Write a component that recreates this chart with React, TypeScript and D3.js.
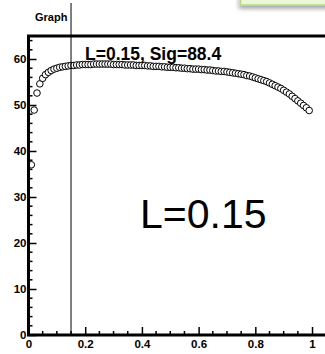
import { useRef, useEffect } from 'react';
import * as d3 from 'd3';

// Sig vs L, sampled every 0.01 from L=0.01 to L=0.99
const L_START = 0.01;
const L_STEP = 0.01;
const SIG_VALUES = [
  37.0, 48.9, 52.6, 54.6, 55.8, 56.6, 57.1, 57.5, 57.8, 58.0,
  58.2, 58.3, 58.4, 58.5, 58.6, 58.6, 58.7, 58.7, 58.8, 58.8,
  58.8, 58.8, 58.9, 58.9, 58.9, 58.9, 58.9, 58.9, 58.9, 58.8,
  58.8, 58.8, 58.8, 58.7, 58.7, 58.7, 58.7, 58.6, 58.6,
  58.6, 58.6, 58.5, 58.5, 58.4, 58.4, 58.4, 58.3, 58.3, 58.2,
  58.2, 58.2, 58.1, 58.1, 58.0, 58.0, 57.9, 57.9, 57.8, 57.8,
  57.8, 57.7, 57.7, 57.6, 57.6, 57.5, 57.4, 57.4, 57.3, 57.3,
  57.2, 57.1, 57.0, 56.9, 56.8, 56.7, 56.6, 56.4, 56.3, 56.1,
  55.9, 55.7, 55.5, 55.3, 55.1, 54.8, 54.5, 54.2, 53.9, 53.6,
  53.2, 52.8, 52.4, 51.9, 51.4, 50.9, 50.4, 49.9, 49.4, 48.8,
];
const X_MAJOR = [0, 0.2, 0.4, 0.6, 0.8, 1];
const X_MINOR = [0.05, 0.1, 0.15, 0.25, 0.3, 0.35, 0.45, 0.5, 0.55, 0.65, 0.7, 0.75, 0.85, 0.9, 0.95, 1.05];
const Y_MAJOR = [0, 10, 20, 30, 40, 50, 60];
const Y_MINOR = [2, 4, 6, 8, 12, 14, 16, 18, 22, 24, 26, 28, 32, 34, 36, 38, 42, 44, 46, 48, 52, 54, 56, 58, 62, 64];
const MARKER_L = 0.15;
const TITLE = 'Graph';
const NOTE = 'L=0.15, Sig=88.4';
const BIG_NOTE = 'L=0.15';

const W = 325;
const H = 354;
const FONT = '"Liberation Sans", Arial, sans-serif';

export default function App() {
  const svgRef = useRef<SVGSVGElement>(null);

  useEffect(() => {
    document.body.style.margin = '0';
    const svg = d3.select(svgRef.current);
    svg.selectAll('*').remove();

    const x = d3.scaleLinear().domain([0, 1.05]).range([28.5, 326.2]);
    const y = d3.scaleLinear().domain([0, 65]).range([335, 36]);

    // callout box peeking in at the top right
    const defs = svg.append('defs');
    const f = defs.append('filter').attr('id', 'shadow').attr('x', '-20%').attr('y', '-50%').attr('width', '140%').attr('height', '300%');
    f.append('feDropShadow').attr('dx', -1).attr('dy', 3).attr('stdDeviation', 2).attr('flood-color', '#000').attr('flood-opacity', 0.35);
    svg.append('rect')
      .attr('x', 240.5).attr('y', -6).attr('width', 100).attr('height', 11)
      .attr('fill', '#ebf7d6').attr('stroke', '#b4da86').attr('stroke-width', 1.5)
      .attr('filter', 'url(#shadow)');

    svg.append('text')
      .attr('x', 35).attr('y', 21)
      .attr('font-family', FONT).attr('font-size', 11).attr('font-weight', 700)
      .text(TITLE);

    // points
    const data = SIG_VALUES.map((v, i) => ({ l: L_START + i * L_STEP, sig: v }));
    svg.append('g')
      .selectAll('circle')
      .data(data)
      .join('circle')
      .attr('cx', d => x(d.l))
      .attr('cy', d => y(d.sig))
      .attr('r', 3.3)
      .attr('fill', '#fff')
      .attr('stroke', '#000')
      .attr('stroke-width', 1);

    // marker line
    svg.append('line')
      .attr('x1', x(MARKER_L)).attr('x2', x(MARKER_L))
      .attr('y1', 3).attr('y2', y(0))
      .attr('stroke', '#000').attr('stroke-width', 1);

    // minor ticks
    svg.append('g').selectAll('line').data(X_MINOR).join('line')
      .attr('x1', d => x(d)).attr('x2', d => x(d))
      .attr('y1', y(0)).attr('y2', y(0) - 4)
      .attr('stroke', '#000').attr('stroke-width', 1.5);
    svg.append('g').selectAll('line').data(Y_MINOR).join('line')
      .attr('x1', x(0)).attr('x2', x(0) + 4)
      .attr('y1', d => y(d)).attr('y2', d => y(d))
      .attr('stroke', '#000').attr('stroke-width', 1.5);

    const xAxis = svg.append('g')
      .attr('transform', `translate(0,${y(0)})`)
      .call(d3.axisBottom(x).tickValues(X_MAJOR).tickSize(-8).tickPadding(5).tickFormat(d3.format('~g')));
    const yAxis = svg.append('g')
      .attr('transform', `translate(${x(0)},0)`)
      .call(d3.axisLeft(y).tickValues(Y_MAJOR).tickSize(-8).tickPadding(2).tickFormat(d3.format('d')));
    [xAxis, yAxis].forEach(a => {
      a.select('.domain').remove();
      a.selectAll('.tick line').attr('stroke-width', 1.5);
      a.selectAll('.tick text')
        .attr('font-family', FONT).attr('font-size', 11.5).attr('font-weight', 700).attr('fill', '#000');
    });

    // frame
    svg.append('path')
      .attr('d', `M${W + 5},${y(65)} H${x(0)} V${y(0)} H${W + 5}`)
      .attr('fill', 'none').attr('stroke', '#000').attr('stroke-width', 3);

    svg.append('text')
      .attr('x', 85).attr('y', 60)
      .attr('font-family', FONT).attr('font-size', 17.5).attr('font-weight', 700)
      .text(NOTE);

    svg.append('text')
      .attr('x', 140).attr('y', 228)
      .attr('font-family', FONT).attr('font-size', 41)
      .text(BIG_NOTE);
  }, []);

  return (
    <div style={{ position: 'absolute', left: 0, top: 0 }}>
      <svg ref={svgRef} width={W} height={H} style={{ display: 'block', background: '#fff' }} />
    </div>
  );
}
